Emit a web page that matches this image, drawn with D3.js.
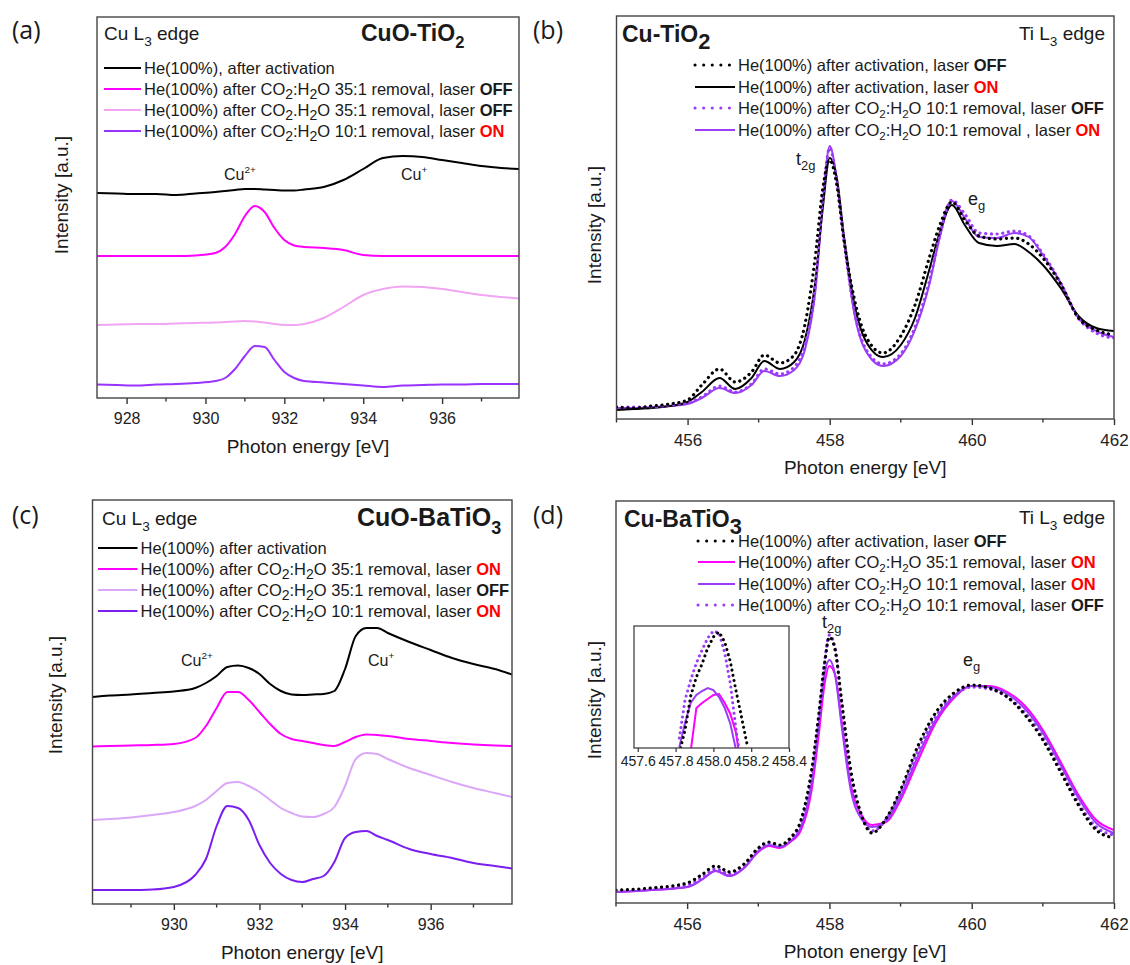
<!DOCTYPE html>
<html>
<head>
<meta charset="utf-8">
<script src="https://cdn.jsdelivr.net/npm/d3@7"></script>
<style>
  body { margin: 0; background: #fff; }
  svg text { font-family: "Liberation Sans", Arial, sans-serif; }
</style>
</head>
<body>
<div id="chart"></div>
<script>
// ---------- data (intensity in arbitrary units) ----------

// (a) CuO-TiO2, Cu L3 edge
const energyA = [927.25, 927.75, 928.25, 928.75, 929.25, 929.75, 930.25, 930.5, 930.75, 931.0, 931.25, 931.5, 931.75,
  932.0, 932.25, 932.5, 933.0, 933.5, 934.0, 934.5, 935.0, 935.5, 936.0, 936.5, 937.0, 937.5, 937.95];
const a_activation = [205, 204.5, 204, 204, 203, 204.5, 206, 207, 208, 209, 209, 208.5, 208, 207.5, 207.5, 208.5, 211, 218, 229, 240, 242, 241, 238, 235, 232, 230, 229];
const a_35off = [142, 142, 142, 142, 142, 142.5, 145, 151, 164, 182, 192, 186, 170, 158, 152.5, 151, 150, 148, 143, 142, 142, 142, 142, 142, 142, 142, 142];
const a_35off_b = [73, 73.5, 74, 74, 74.5, 75, 75.5, 76, 76.5, 77, 76.5, 75.5, 74, 73, 73, 74, 80, 91, 103, 109, 111.5, 111, 109, 106, 103, 101, 99.5];
const a_10on = [13.5, 13, 12.5, 13.5, 14, 15, 17, 20, 29, 42, 52, 51, 38, 26, 20, 17, 15.5, 14, 12.5, 11, 12.5, 13, 13.5, 13.5, 14, 14, 14];
const legendA = [
  "He(100%), after activation",
  "He(100%) after CO_{2}:H_{2}O 35:1 removal, laser *OFF*",
  "He(100%) after CO_{2}.H_{2}O 35:1 removal, laser *OFF*",
  "He(100%) after CO_{2}:H_{2}O 10:1 removal, laser #ON#"
];

// (b) Cu-TiO2, Ti L3 edge
const energyB = [455.0, 455.25, 455.5, 455.75, 456.0, 456.2, 456.45, 456.67, 456.9, 457.08, 457.3, 457.5, 457.65, 457.8,
  457.9, 458.0, 458.1, 458.2, 458.35, 458.5, 458.75, 459.0, 459.2, 459.4, 459.55, 459.72, 459.9, 460.1, 460.35, 460.6,
  460.8, 461.0, 461.25, 461.5, 461.75, 462.0];
const b_actOff = [12, 11, 13, 15, 19, 34, 50, 37, 47, 64, 56, 64, 94, 164, 229, 259, 234, 179, 119, 84, 66, 83, 114, 161, 194, 217, 199, 183, 180, 181, 175, 161, 135, 101, 89, 84];
const b_actOn = [9, 10, 11, 13, 17, 27, 41, 30, 41, 58, 50, 57, 79, 139, 209, 261, 241, 183, 114, 79, 62, 74, 101, 149, 187, 214, 194, 176, 173, 175, 167, 154, 131, 103, 91, 88];
const b_10off = [11, 12, 12, 14, 16, 22, 33, 27, 35, 50, 45, 52, 74, 134, 219, 271, 237, 179, 107, 71, 55, 65, 92, 137, 184, 219, 205, 186, 185, 188, 183, 165, 136, 101, 86, 81];
const b_10on = [11, 11, 12, 13, 15, 21, 31, 26, 34, 48, 43, 49, 69, 129, 214, 273, 239, 179, 104, 69, 53, 63, 89, 134, 182, 218, 201, 182, 181, 186, 182, 164, 136, 101, 88, 82];
const legendB = [
  "He(100%) after activation, laser *OFF*",
  "He(100%) after activation, laser #ON#",
  "He(100%) after CO_{2}:H_{2}O 10:1 removal, laser *OFF*",
  "He(100%) after CO_{2}:H_{2}O 10:1 removal , laser #ON#"
];

// (c) CuO-BaTiO3, Cu L3 edge
const energyC = [928.1, 928.5, 929.0, 929.5, 930.0, 930.5, 930.75, 931.0, 931.25, 931.5, 931.75, 932.0, 932.25, 932.5,
  932.75, 933.0, 933.25, 933.5, 933.75, 934.0, 934.25, 934.5, 934.75, 935.0, 935.5, 936.0, 936.5, 937.0, 937.5, 937.9];
const c_activation = [207, 208.5, 209.5, 211, 212.5, 216, 221, 228, 237, 238.5, 236, 230, 220, 213, 209.5, 209, 209.5, 210, 213, 235, 268, 276, 276, 271, 262, 254, 246, 240, 235, 229.5];
const c_35on = [157.5, 158, 158.5, 159, 160, 166, 178, 196, 212, 212, 204, 192, 180, 170, 165, 163, 161, 159, 158, 162, 167, 169.5, 169, 168, 165, 163, 161, 159.5, 158.5, 158];
const c_35off = [84, 85, 86.5, 89, 92, 98, 104, 113, 121, 122, 118, 112, 104, 96, 91, 87.5, 87, 90, 97, 118, 145, 151, 150, 145, 136, 129, 122, 116, 111, 107];
const c_10on = [14, 14, 14, 14.5, 17, 29, 45, 78, 98, 96, 84, 59, 41, 30, 24, 22, 25, 28, 42, 66, 72, 73, 68, 64, 55, 50, 46, 41, 38, 35.5];
const legendC = [
  "He(100%) after activation",
  "He(100%) after CO_{2}:H_{2}O 35:1 removal, laser #ON#",
  "He(100%) after CO_{2}:H_{2}O 35:1 removal, laser *OFF*",
  "He(100%) after CO_{2}:H_{2}O 10:1 removal, laser #ON#"
];

// (d) Cu-BaTiO3, Ti L3 edge
const energyD = [455.0, 455.5, 456.0, 456.2, 456.4, 456.6, 456.8, 457.0, 457.15, 457.3, 457.45, 457.6, 457.75, 457.85,
  457.93, 458.0, 458.08, 458.17, 458.3, 458.45, 458.6, 458.8, 459.0, 459.25, 459.5, 459.75, 460.0, 460.25, 460.5,
  460.75, 461.0, 461.25, 461.5, 461.75, 462.0];
const d_actOff = [13, 15, 20, 28, 37, 31, 39, 55, 61, 58, 65, 83, 133, 188, 238, 266, 253, 203, 133, 88, 70, 85, 113, 158, 191, 210, 218, 215, 206, 188, 163, 131, 98, 73, 65];
const d_35on = [11, 13, 16, 23, 32, 27, 35, 51, 57, 55, 61, 73, 113, 168, 218, 237, 228, 183, 118, 88, 78, 81, 103, 143, 181, 205, 217, 217, 211, 197, 173, 141, 108, 83, 73];
const d_10on = [11, 13, 16, 23, 32, 27, 35, 52, 58, 56, 62, 76, 120, 178, 228, 243, 228, 178, 113, 84, 76, 82, 106, 148, 184, 207, 217, 216, 209, 194, 170, 138, 105, 80, 70];
const d_10off = [12, 14, 18, 25, 34, 29, 37, 54, 60, 57, 64, 80, 128, 186, 240, 268, 255, 200, 128, 88, 72, 84, 110, 153, 187, 207, 216, 214, 206, 190, 166, 134, 100, 76, 68];
const legendD = [
  "He(100%) after activation, laser *OFF*",
  "He(100%) after CO_{2}:H_{2}O 35:1 removal, laser #ON#",
  "He(100%) after CO_{2}:H_{2}O 10:1 removal, laser #ON#",
  "He(100%) after CO_{2}:H_{2}O 10:1 removal, laser *OFF*"
];

// (d) inset, zoom on the t2g peak
const insetE = [457.82, 457.85, 457.88, 457.91, 457.94, 457.97, 458.0, 458.03, 458.06, 458.09, 458.12, 458.15, 458.18];
const inset_actOff = [-5, 18, 52, 71, 84, 100, 111, 116, 106, 86, 57, 30, 2];
const inset_35on = [-60, -30, -3, 40, 45, 49, 53, 54, 45, 34, 15, -25, -55];
const inset_10on = [1, 25, 45, 53, 57, 60, 58, 51, 40, 24, -2, -25, -50];
const inset_10off = [10, 48, 68, 85, 98, 110, 117, 115, 95, 64, 18, -20, -50];
const insetTicks = [457.6, 457.8, 458.0, 458.2, 458.4];

// ---------- drawing ----------
const svg = d3.select("#chart").append("svg")
    .attr("width", 1130)
    .attr("height", 965);

// text with tiny markup: _{sub} ^{sup} *bold* #bold red#
function rich(g, x, y, str, size, opts) {
    opts = opts || {};
    let t = g.append("text")
        .attr("x", x).attr("y", y)
        .attr("font-size", size)
        .attr("fill", "#1a1a1a");
    if (opts.anchor) t.attr("text-anchor", opts.anchor);
    if (opts.bold) t.attr("font-weight", "bold");
    if (opts.rotate) t.attr("transform", "rotate(-90," + x + "," + y + ")");
    let subScale = opts.subScale || 0.72;
    let parts = str.split(/(_\{[^}]*\}|\^\{[^}]*\}|\*[^*]+\*|#[^#]+#)/).filter(s => s.length);
    let shift = 0;
    parts.forEach(p => {
        let txt = p, dy = 0, fs = null, bold = false, fill = null;
        if (p.startsWith("_{")) { txt = p.slice(2, -1); dy = 0.3 * size; fs = size * subScale; }
        else if (p.startsWith("^{")) { txt = p.slice(2, -1); dy = -0.42 * size; fs = size * 0.62; }
        else if (p.startsWith("*")) { txt = p.slice(1, -1); bold = true; }
        else if (p.startsWith("#")) { txt = p.slice(1, -1); bold = true; fill = "#ff0000"; }
        let ts = t.append("tspan").text(txt).attr("dy", dy - shift);
        shift = dy;
        if (fs) ts.attr("font-size", fs);
        if (bold) ts.attr("font-weight", "bold");
        if (fill) ts.attr("fill", fill);
    });
    return t;
}

let clipId = 0;

function drawPanel(p) {
    let g = svg.append("g");
    let x = d3.scaleLinear().domain(p.xDomain).range([p.left, p.right]);
    let y = d3.scaleLinear().domain(p.yDomain).range([p.bottom, p.top]);

    // bottom axis, major ticks with labels
    let ax = g.append("g")
        .attr("transform", "translate(0," + p.bottom + ")")
        .call(d3.axisBottom(x).tickValues(p.major).tickFormat(d3.format("d")).tickSize(6).tickPadding(9));
    ax.attr("font-family", null).attr("font-size", null);
    ax.select(".domain").remove();
    ax.selectAll(".tick line").attr("stroke", "#333").attr("stroke-width", 1.4);
    ax.selectAll(".tick text").attr("font-size", p.tickFont).attr("fill", "#222");

    // minor ticks
    g.selectAll(".minor")
        .data(p.minor)
        .enter()
        .append("line")
            .attr("x1", d => x(d)).attr("x2", d => x(d))
            .attr("y1", p.bottom).attr("y2", p.bottom + 3.5)
            .attr("stroke", "#333").attr("stroke-width", 1.4);

    // clip for the curves
    let id = "clip" + (clipId++);
    g.append("clipPath").attr("id", id)
        .append("rect")
            .attr("x", p.left).attr("y", p.top)
            .attr("width", p.right - p.left).attr("height", p.bottom - p.top);

    let line = d3.line()
        .x((d, i) => x(p.energy[i]))
        .y(d => y(d))
        .curve(d3.curveMonotoneX);

    let curves = g.append("g").attr("clip-path", "url(#" + id + ")");
    p.series.forEach(s => {
        let path = curves.append("path")
            .attr("d", line(s.values))
            .attr("fill", "none")
            .attr("stroke", s.color)
            .attr("stroke-width", s.dotted ? 3.2 : (s.width || 2))
            .attr("stroke-linejoin", "round");
        if (s.dotted) path.attr("stroke-dasharray", "0.1 5.6").attr("stroke-linecap", "round");
    });

    // frame
    g.append("rect")
        .attr("x", p.left).attr("y", p.top)
        .attr("width", p.right - p.left).attr("height", p.bottom - p.top)
        .attr("fill", "none").attr("stroke", "#444").attr("stroke-width", 1.4);

    // legend
    p.legend.forEach((label, i) => {
        let s = p.series[p.legendOrder[i]];
        let ly = p.legendY[i];
        let l = g.append("line")
            .attr("x1", p.legendX[0]).attr("x2", p.legendX[1])
            .attr("y1", ly).attr("y2", ly)
            .attr("stroke", s.color)
            .attr("stroke-width", s.dotted ? 3 : 2.2);
        if (s.dotted) l.attr("stroke-dasharray", "0.1 8.5").attr("stroke-linecap", "round");
        rich(g, p.legendX[1] + 3, ly + 5.5, label, 16.5, {subScale: p.subScale});
    });

    // axis titles
    g.append("text")
        .attr("x", (p.left + p.right) / 2).attr("y", p.bottom + 55)
        .attr("text-anchor", "middle")
        .attr("font-size", 19).attr("fill", "#1a1a1a")
        .text("Photon energy [eV]");
    rich(g, p.yLabel[0], p.yLabel[1], "Intensity [a.u.]", 19, {anchor: "middle", rotate: true});

    // panel letter
    g.append("text")
        .attr("x", p.letter[0]).attr("y", p.letter[1])
        .style("font-family", '"Open Sans", "DejaVu Sans", sans-serif')
        .attr("font-size", 25).attr("fill", "#1a1a1a")
        .text(p.letter[2]);

    p.texts.forEach(t => rich(g, t.x, t.y, t.s, t.size, t.opts));
    return {g: g, x: x, y: y};
}

const black = "#000000", magenta = "#ff00ff", paleA = "#f2a5f2", paleC = "#dba8f7",
      purpleA = "#9933ff", purpleB = "#9b3cf6", purpleC = "#7a1ff0";

// (a)
drawPanel({
    left: 97, right: 519, top: 17, bottom: 398,
    xDomain: [927.25, 937.95], yDomain: [0, 381],
    major: [928, 930, 932, 934, 936], minor: [929, 931, 933, 935, 937], tickFont: 16,
    energy: energyA,
    series: [
        {values: a_activation, color: black},
        {values: a_35off, color: magenta},
        {values: a_35off_b, color: paleA},
        {values: a_10on, color: purpleA}
    ],
    legend: legendA, legendOrder: [0, 1, 2, 3],
    legendX: [104, 141], legendY: [68, 89, 110, 131], subScale: 0.85,
    yLabel: [68, 195], letter: [12, 39, "(a)"],
    texts: [
        {x: 104, y: 40, s: "Cu L_{3} edge", size: 19},
        {x: 361, y: 41, s: "CuO-TiO_{2}", size: 23, opts: {bold: true}},
        {x: 224, y: 180, s: "Cu^{2+}", size: 16},
        {x: 401, y: 180, s: "Cu^{+}", size: 16}
    ]
});

// (b)
drawPanel({
    left: 616.5, right: 1114, top: 16, bottom: 419,
    xDomain: [455, 462], yDomain: [0, 403],
    major: [456, 458, 460, 462], minor: [455, 457, 459, 461], tickFont: 17,
    energy: energyB,
    series: [
        {values: b_10on, color: purpleB},
        {values: b_actOn, color: black},
        {values: b_10off, color: purpleB, dotted: true},
        {values: b_actOff, color: black, dotted: true}
    ],
    legend: legendB, legendOrder: [3, 1, 2, 0],
    legendX: [695, 735], legendY: [65, 87, 108, 130], subScale: 0.7,
    yLabel: [601, 225], letter: [533, 39, "(b)"],
    texts: [
        {x: 622, y: 42, s: "Cu-TiO_{2}", size: 23, opts: {bold: true, subScale: 0.95}},
        {x: 1105, y: 40, s: "Ti L_{3} edge", size: 19, opts: {anchor: "end"}},
        {x: 796, y: 165, s: "t_{2g}", size: 18},
        {x: 968, y: 205, s: "e_{g}", size: 18}
    ]
});

// (c)
drawPanel({
    left: 92.5, right: 512, top: 500, bottom: 904,
    xDomain: [928.1, 937.9], yDomain: [0, 404],
    major: [930, 932, 934, 936], minor: [929, 931, 933, 935, 937], tickFont: 16,
    energy: energyC,
    series: [
        {values: c_activation, color: black},
        {values: c_35on, color: magenta},
        {values: c_35off, color: paleC},
        {values: c_10on, color: purpleC}
    ],
    legend: legendC, legendOrder: [0, 1, 2, 3],
    legendX: [98, 137.5], legendY: [548, 569, 590, 611], subScale: 0.85,
    yLabel: [62, 695], letter: [12, 524, "(c)"],
    texts: [
        {x: 102, y: 525, s: "Cu L_{3} edge", size: 19},
        {x: 357, y: 526, s: "CuO-BaTiO_{3}", size: 25, opts: {bold: true}},
        {x: 181, y: 666, s: "Cu^{2+}", size: 16},
        {x: 368, y: 666, s: "Cu^{+}", size: 16}
    ]
});

// (d)
let pd = drawPanel({
    left: 616, right: 1114, top: 501, bottom: 903,
    xDomain: [455, 462], yDomain: [0, 402],
    major: [456, 458, 460, 462], minor: [455, 457, 459, 461], tickFont: 17,
    energy: energyD,
    series: [
        {values: d_35on, color: magenta},
        {values: d_10on, color: purpleB},
        {values: d_10off, color: purpleB, dotted: true},
        {values: d_actOff, color: black, dotted: true}
    ],
    legend: legendD, legendOrder: [3, 0, 1, 2],
    legendX: [698, 735], legendY: [541, 562, 584, 605], subScale: 0.7,
    yLabel: [601, 700], letter: [533, 524, "(d)"],
    texts: [
        {x: 624, y: 527, s: "Cu-BaTiO_{3}", size: 23, opts: {bold: true, subScale: 0.95}},
        {x: 1105, y: 524, s: "Ti L_{3} edge", size: 19, opts: {anchor: "end"}},
        {x: 822, y: 628, s: "t_{2g}", size: 18},
        {x: 963, y: 666, s: "e_{g}", size: 18}
    ]
});

// inset of (d)
(function () {
    let L = 634, R = 789, T = 626, B = 748;
    let g = pd.g.append("g");
    let x = d3.scaleLinear().domain([457.58, 458.4]).range([L, R]);
    let y = d3.scaleLinear().domain([0, 122]).range([B, T]);
    g.append("rect").attr("x", L).attr("y", T).attr("width", R - L).attr("height", B - T).attr("fill", "#fff");
    g.append("clipPath").attr("id", "clipInset")
        .append("rect").attr("x", L).attr("y", T).attr("width", R - L).attr("height", B - T);
    let line = d3.line().x((d, i) => x(insetE[i])).y(d => y(d));
    let c = g.append("g").attr("clip-path", "url(#clipInset)");
    [
        {values: inset_35on, color: magenta},
        {values: inset_10on, color: purpleB},
        {values: inset_10off, color: purpleB, dotted: true},
        {values: inset_actOff, color: black, dotted: true}
    ].forEach(s => {
        let path = c.append("path").attr("d", line(s.values))
            .attr("fill", "none").attr("stroke", s.color)
            .attr("stroke-width", s.dotted ? 3 : 2);
        if (s.dotted) path.attr("stroke-dasharray", "0.1 5.2").attr("stroke-linecap", "round");
    });
    g.append("rect").attr("x", L).attr("y", T).attr("width", R - L).attr("height", B - T)
        .attr("fill", "none").attr("stroke", "#444").attr("stroke-width", 1.3);
    let ax = g.append("g").attr("transform", "translate(0," + B + ")")
        .call(d3.axisBottom(x).tickValues(insetTicks).tickFormat(d3.format(".1f")).tickSize(4).tickPadding(4));
    ax.attr("font-family", null).attr("font-size", null);
    ax.select(".domain").remove();
    ax.selectAll(".tick line").attr("stroke", "#333").attr("stroke-width", 1.2);
    ax.selectAll(".tick text").attr("font-size", 14).attr("fill", "#222");
})();
</script>
</body>
</html>
